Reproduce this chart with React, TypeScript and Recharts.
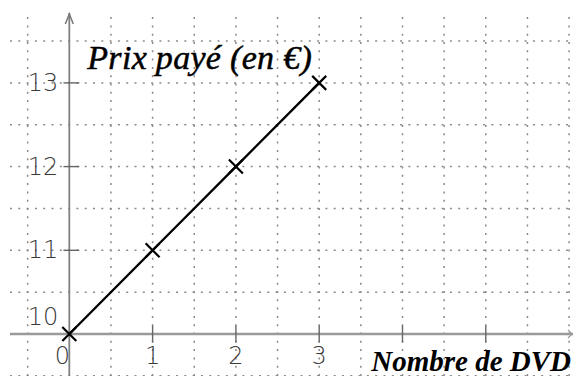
import React from 'react';
import { LineChart, Line, XAxis, YAxis, ReferenceLine, ReferenceDot } from 'recharts';

const dvdCounts = [0, 1, 2, 3];
const pricesPaid = [10, 11, 12, 13];
const xLabelTicks = [0, 1, 2, 3];
const xMarkTicks = [1, 2, 3, 4, 5];
const yLabelTicks = [10, 11, 12, 13];
const yMarkTicks = [11, 12, 13];
const xGridValues = [-0.5, 0.5, 1, 1.5, 2, 2.5, 3, 3.5, 4, 4.5, 5, 5.5, 6];
const yGridValues = [9.5, 10.5, 11, 11.5, 12, 12.5, 13, 13.5];
const xDomain = [-0.712, 6.047];
const yDomain = [9.498, 13.835];
const yTitle = 'Prix payé (en €)';
const xTitle = 'Nombre de DVD';

const data = dvdCounts.map((n, i) => ({ n, price: pricesPaid[i] }));

const GRID = '#8a8a8a';
const TICKFONT = { fontFamily: 'DejaVu Sans', fontSize: 24, fill: '#3a3a3a', fontWeight: 200 } as const;

const Cross = (p: any) => {
  const { cx, cy } = p;
  if (cx == null || cy == null) return null;
  const s = 7;
  return (
    <path
      d={`M${cx - s},${cy - s} L${cx + s},${cy + s} M${cx + s},${cy - s} L${cx - s},${cy + s}`}
      stroke="#000"
      strokeWidth={2.2}
      fill="none"
    />
  );
};

const YAxisShape = (p: any) => {
  const { x1, y1, x2, y2 } = p;
  const top = Math.min(y1, y2);
  return (
    <g>
      <line x1={x1} y1={y1} x2={x2} y2={y2} stroke="#808080" strokeWidth={1.8} />
      <path d={`M${x1 - 4},${top + 11} L${x1},${top + 1} L${x1 + 4},${top + 11}`} fill="none" stroke="#777" strokeWidth={1.5} />
      <text x={x1 + 18} y={top + 56} fontFamily="Liberation Serif" fontStyle="italic" fontSize={34} letterSpacing={0.3} fill="#000" stroke="#000" strokeWidth={0.5}>
        {yTitle}
      </text>
    </g>
  );
};

const XAxisShape = (p: any) => {
  const { x1, y1, x2, y2 } = p;
  const right = Math.max(x1, x2);
  return (
    <g>
      <line x1={x1} y1={y1} x2={x2} y2={y2} stroke="#9a9a9a" strokeWidth={2.6} />
      <path d={`M${right - 5},${y1 - 4} L${right - 1},${y1} L${right - 5},${y1 + 4}`} fill="none" stroke="#999" strokeWidth={1.2} />
      <text x={right - 2} y={y1 + 37} textAnchor="end" fontFamily="Liberation Serif" fontStyle="italic" fontWeight="bold" fontSize={29} fill="#000">
        {xTitle}
      </text>
    </g>
  );
};

const TickMark = (p: any) => {
  const { x1, y1, x2, y2 } = p;
  return <line x1={x1} y1={y1} x2={x2} y2={y2} stroke="#666" strokeWidth={1.4} />;
};

export default function App() {
  return (
    <div style={{ position: 'absolute', left: 0, top: 0, width: 573, height: 376, background: '#fff', overflow: 'hidden' }}>
      <LineChart width={573} height={376} data={data} margin={{ top: 13, right: 0, bottom: 0, left: 10 }}>
        <XAxis dataKey="n" type="number" domain={xDomain} allowDataOverflow hide />
        <YAxis type="number" domain={yDomain} allowDataOverflow hide />
        {xGridValues.map((v) => (
          <ReferenceLine key={`gx${v}`} x={v} stroke={GRID} strokeWidth={1.5} strokeDasharray="2 6.3" ifOverflow="visible" />
        ))}
        {yGridValues.map((v) => (
          <ReferenceLine key={`gy${v}`} y={v} stroke={GRID} strokeWidth={1.5} strokeDasharray="2 6.3" ifOverflow="visible" />
        ))}
        <ReferenceLine y={10} shape={XAxisShape} />
        <ReferenceLine x={0} shape={YAxisShape} />
        {xMarkTicks.map((v) => (
          <ReferenceLine key={`tx${v}`} segment={[{ x: v, y: 9.9 }, { x: v, y: 10.1 }]} shape={TickMark} />
        ))}
        {yMarkTicks.map((v) => (
          <ReferenceLine key={`ty${v}`} segment={[{ x: -0.07, y: v }, { x: 0.12, y: v }]} shape={TickMark} />
        ))}
        {xLabelTicks.map((v) => (
          <ReferenceDot
            key={`lx${v}`}
            x={v}
            y={10}
            r={0}
            shape={(p: any) => (
              <text x={p.cx + (v === 0 ? -7 : 0)} y={p.cy + 22} textAnchor="middle" dominantBaseline="central" {...TICKFONT}>
                {v}
              </text>
            )}
          />
        ))}
        {yLabelTicks.map((v) => (
          <ReferenceDot
            key={`ly${v}`}
            x={0}
            y={v}
            r={0}
            shape={(p: any) => (
              <text x={p.cx - 11} y={p.cy + (v === 10 ? -17 : 0)} textAnchor="end" dominantBaseline="central" {...TICKFONT}>
                {v}
              </text>
            )}
          />
        ))}
        <Line
          dataKey="price"
          stroke="#000"
          strokeWidth={2.3}
          dot={Cross}
          activeDot={false}
          isAnimationActive={false}
        />
      </LineChart>
    </div>
  );
}
